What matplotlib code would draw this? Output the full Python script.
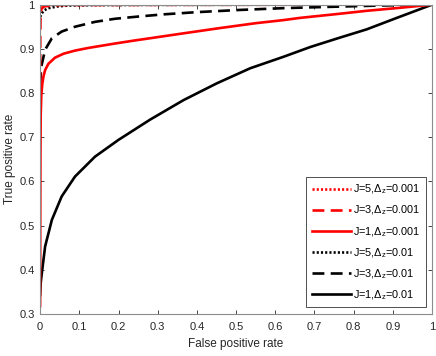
import matplotlib
matplotlib.use("Agg")
import matplotlib.pyplot as plt

plt.rcParams['font.family'] = ['Liberation Sans', 'DejaVu Sans']
plt.rcParams['mathtext.fontset'] = 'custom'
plt.rcParams['mathtext.rm'] = 'Liberation Sans'
plt.rcParams['mathtext.it'] = 'Liberation Sans'

# ROC curves (false positive rate, true positive rate)
fpr_j1_01 = [0, 0.0015, 0.0043, 0.0128, 0.030, 0.055, 0.089, 0.140, 0.20, 0.281, 0.366,
             0.451, 0.536, 0.621, 0.689, 0.76, 0.833, 0.91, 1.0]
tpr_j1_01 = [0.343, 0.37, 0.392, 0.453, 0.513, 0.566, 0.611, 0.656, 0.694, 0.740, 0.784,
             0.822, 0.856, 0.882, 0.904, 0.924, 0.944, 0.970, 1.0]

fpr_j3_01 = [0, 0.003, 0.0128, 0.030, 0.055, 0.089, 0.140, 0.191, 0.25, 0.315, 0.40,
             0.51, 0.62, 0.74, 0.87, 1.0]
tpr_j3_01 = [0.82, 0.86, 0.898, 0.924, 0.939, 0.950, 0.961, 0.968, 0.973, 0.978, 0.983,
             0.988, 0.992, 0.995, 0.998, 1.0]

fpr_j5_01 = [0, 0.004, 0.010, 0.021, 0.045, 0.072, 0.15, 0.3, 0.6, 1.0]
tpr_j5_01 = [0.972, 0.980, 0.987, 0.992, 0.996, 0.998, 0.999, 0.9995, 0.9998, 1.0]

fpr_j1_001 = [0, 0.0003, 0.0008, 0.0015, 0.003, 0.0055, 0.0085, 0.0128, 0.021, 0.038,
              0.060, 0.089, 0.123, 0.157, 0.191, 0.242, 0.281, 0.35, 0.451, 0.55,
              0.621, 0.663, 0.75, 0.833, 0.92, 1.0]
tpr_j1_001 = [0.318, 0.50, 0.66, 0.75, 0.795, 0.82, 0.837, 0.852, 0.866, 0.880,
              0.889, 0.896, 0.902, 0.907, 0.912, 0.919, 0.924, 0.933, 0.946, 0.958,
              0.965, 0.970, 0.978, 0.986, 0.993, 1.0]

fpr_j3_001 = [0, 0.0005, 0.001, 0.003, 0.01, 0.05, 0.3, 1.0]
tpr_j3_001 = [0.82, 0.93, 0.97, 0.99, 0.996, 0.999, 0.9995, 1.0]

fpr_j5_001 = [0, 0.001, 0.005, 0.05, 1.0]
tpr_j5_001 = [0.993, 0.998, 0.999, 0.9998, 1.0]

xticks = [0, 0.1, 0.2, 0.3, 0.4, 0.5, 0.6, 0.7, 0.8, 0.9, 1]
xtick_labels = ['0', '0.1', '0.2', '0.3', '0.4', '0.5', '0.6', '0.7', '0.8', '0.9', '1']
yticks = [0.3, 0.4, 0.5, 0.6, 0.7, 0.8, 0.9, 1]
ytick_labels = ['0.3', '0.4', '0.5', '0.6', '0.7', '0.8', '0.9', '1']

fig = plt.figure(figsize=(4.36, 3.56), dpi=100)
ax = fig.add_axes([0.092, 0.118, 0.899, 0.869])

lw = 1.9
dashed = (0, (4.5, 2.4))
dotted = (0, (0.8, 0.8))
l6, = ax.plot(fpr_j1_01, tpr_j1_01, color='black', lw=lw, ls='-')
l5, = ax.plot(fpr_j3_01, tpr_j3_01, color='black', lw=lw, ls=dashed)
l4, = ax.plot(fpr_j5_01, tpr_j5_01, color='black', lw=lw, ls=dotted)
l3, = ax.plot(fpr_j1_001, tpr_j1_001, color='red', lw=lw, ls='-')
l2, = ax.plot(fpr_j3_001, tpr_j3_001, color='red', lw=lw, ls=dashed)
l1, = ax.plot(fpr_j5_001, tpr_j5_001, color='red', lw=lw, ls=dotted)

labels = [r'J=5,$\Delta_z$=0.001', r'J=3,$\Delta_z$=0.001', r'J=1,$\Delta_z$=0.001',
          r'J=5,$\Delta_z$=0.01', r'J=3,$\Delta_z$=0.01', r'J=1,$\Delta_z$=0.01']
leg = ax.legend([l1, l2, l3, l4, l5, l6], labels, loc='lower right', fontsize=7.8,
                handlelength=3.6, handletextpad=0.2, labelspacing=0.7,
                fancybox=False, framealpha=1, borderaxespad=0.6, borderpad=0.5)
leg.get_frame().set_edgecolor('#333333')
leg.get_frame().set_linewidth(0.6)

ax.set_xlim(0, 1)
ax.set_ylim(0.3, 1)
ax.set_xticks(xticks)
ax.set_xticklabels(xtick_labels)
ax.set_yticks(yticks)
ax.set_yticklabels(ytick_labels)
ax.tick_params(direction='in', length=3, width=0.6, colors='#262626', labelsize=8,
               top=True, right=True)
ax.tick_params(axis='x', pad=6)
ax.tick_params(axis='y', pad=4)
for s in ax.spines.values():
    s.set_color('#8c8c8c')
    s.set_linewidth(0.8)

ax.set_xlabel('False positive rate', fontsize=8.5, color='#262626', labelpad=4)
ax.set_ylabel('True positive rate', fontsize=8.5, color='#262626', labelpad=2)

fig.savefig('out.png', dpi=100)
